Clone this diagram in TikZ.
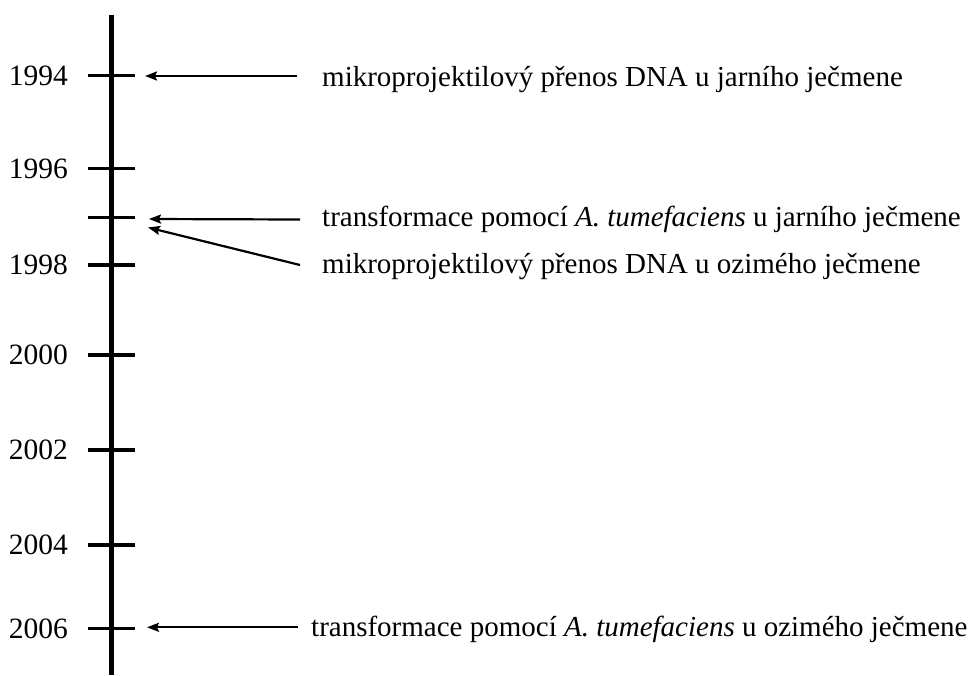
\documentclass[tikz,border=0pt]{standalone}
\usepackage{fontspec}
\setmainfont{Liberation Serif}
\usetikzlibrary{arrows.meta}

\begin{document}
\begin{tikzpicture}[x=1pt,y=-1pt,
  yearlabel/.style={anchor=base east,inner sep=0pt,font=\fontsize{29.5}{34}\selectfont},
  eventlabel/.style={anchor=base west,inner sep=0pt,font=\fontsize{29}{34}\selectfont},
  axisline/.style={line width=4.5pt},
  tickline/.style={line width=3.2pt},
  evarrow/.style={line width=2.2pt,-{Stealth[length=12pt,width=9pt,inset=2pt]}}]
  \useasboundingbox (0,0) rectangle (976,675);

  % time axis
  \coordinate (top) at (111.5,15);
  \coordinate (bottom) at (111.5,675);
  \draw[axisline] (top) -- (bottom);

  % ticks with year labels
  \foreach \name/\yy/\lab in {t94/75.7/1994, t96/168.3/1996, t97/217.7/, t98/265/1998,
                              t00/355/2000, t02/450/2002, t04/545/2004, t06/628.3/2006}{
    \coordinate (\name-l) at (88,\yy);
    \coordinate (\name-r) at (135,\yy);
    \draw[tickline] (\name-l) -- (\name-r);
    \node[yearlabel] (\name-year) at (68,\yy+9.8) {\lab};
  }

  % events
  \node[eventlabel] (e94) at (322,86) {mikroprojektilový přenos DNA u jarního ječmene};
  \node[eventlabel] (e97a) at (322,226) {transformace pomocí \textit{A. tumefaciens} u jarního ječmene};
  \node[eventlabel] (e97b) at (322,273) {mikroprojektilový přenos DNA u ozimého ječmene};
  \node[eventlabel] (e06) at (311,636) {transformace pomocí \textit{A. tumefaciens} u ozimého ječmene};

  % arrow ends
  \coordinate (a94s) at (297,76);   \coordinate (a94e) at (145,76);
  \coordinate (a97as) at (300,219.5); \coordinate (a97ae) at (149,219);
  \coordinate (a97bs) at (300,265); \coordinate (a97be) at (148,227.5);
  \coordinate (a06s) at (298,627.3); \coordinate (a06e) at (147,627.3);

  \draw[evarrow] (a94s) -- (a94e);
  \draw[evarrow] (a97as) -- (a97ae);
  \draw[evarrow] (a97bs) -- (a97be);
  \draw[evarrow] (a06s) -- (a06e);
\end{tikzpicture}
\end{document}
